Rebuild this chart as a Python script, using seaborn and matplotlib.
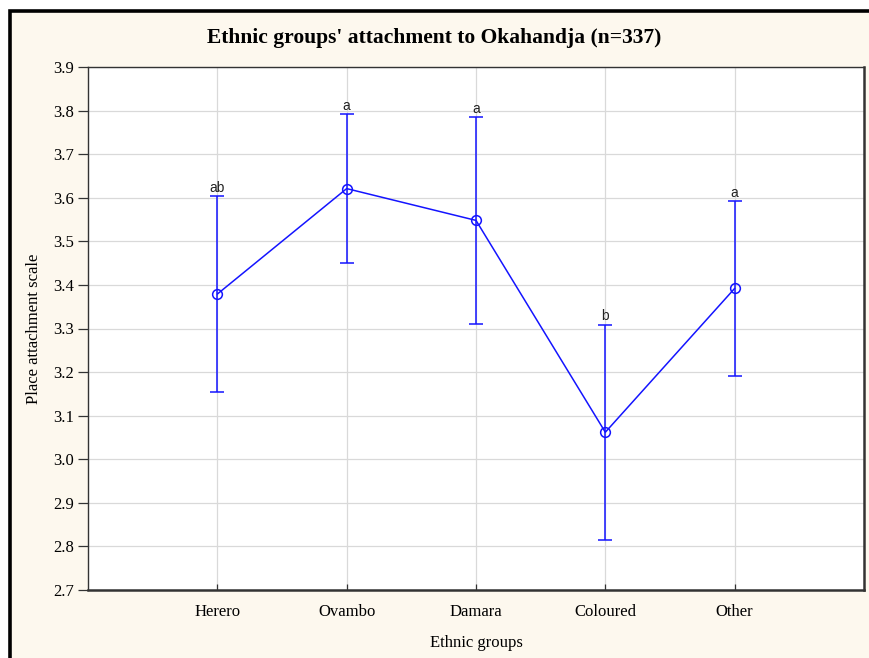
import matplotlib
matplotlib.use("Agg")
import matplotlib.pyplot as plt
from matplotlib.patches import Rectangle
import seaborn as sns
import pandas as pd

# Group means and half-widths of the error bars
groups = ["Herero", "Ovambo", "Damara", "Coloured", "Other"]
means = [3.379, 3.621, 3.548, 3.062, 3.392]
errors = [0.225, 0.171, 0.237, 0.247, 0.200]
letters = ["ab", "a", "a", "b", "a"]
y_ticks = [2.7, 2.8, 2.9, 3.0, 3.1, 3.2, 3.3, 3.4, 3.5, 3.6, 3.7, 3.8, 3.9]

df = pd.DataFrame({"pos": range(len(groups)), "group": groups,
                   "mean": means, "err": errors})

sns.set_style("white")
plt.rcParams["font.family"] = ["Liberation Serif", "DejaVu Serif"]
plt.rcParams["text.color"] = "black"
plt.rcParams["axes.labelcolor"] = "black"

fig = plt.figure(figsize=(8.69, 6.58), dpi=100)
fig.patch.set_facecolor("white")
cream = "#fdf8ee"
frame = Rectangle((10 / 869, -0.05), 1.05, 1 - 11 / 658 + 0.05,
                  transform=fig.transFigure, facecolor=cream,
                  edgecolor="black", linewidth=2.6, zorder=-10)
fig.patches.append(frame)

ax = fig.add_axes([88 / 869, 68 / 658, 776 / 869, 523 / 658])
ax.set_facecolor("white")

blue = "#1414ff"
sns.lineplot(data=df, x="pos", y="mean", ax=ax, color=blue, linewidth=1.1,
             marker="o", markersize=7, markerfacecolor="none",
             markeredgecolor=blue, markeredgewidth=1.1, sort=False, zorder=3)
ax.errorbar(df["pos"], df["mean"], yerr=df["err"], fmt="none", ecolor=blue,
            elinewidth=1.1, capsize=5, capthick=1.1, zorder=3)

for x, m, e, t in zip(df["pos"], df["mean"], df["err"], letters):
    ax.text(x, m + e + 0.003, t, ha="center", va="bottom", fontsize=10,
            family=["Liberation Sans", "DejaVu Sans"], color="#222222")

ax.set_xlim(-1, 5)
ax.set_ylim(2.7, 3.9)
ax.set_xticks(df["pos"])
ax.set_xticklabels(groups)
ax.set_yticks(y_ticks)
ax.set_yticklabels([f"{v:.1f}" for v in y_ticks])

ax.grid(True, color="#d9d9d9", linewidth=0.9, zorder=0)
ax.set_axisbelow(True)

ax.tick_params(axis="y", direction="out", length=7, width=0.9, pad=3,
               labelsize=12, color="#333333", labelcolor="black", left=True)
ax.tick_params(axis="x", direction="in", length=4, width=0.9, pad=10,
               labelsize=12, color="#333333", labelcolor="black", bottom=True)

for side, sp in ax.spines.items():
    sp.set_visible(True)
    sp.set_color("#333333")
    sp.set_linewidth(1.0)
ax.spines["right"].set_linewidth(1.8)
ax.spines["bottom"].set_linewidth(1.8)

ax.set_xlabel("Ethnic groups", fontsize=12, labelpad=11)
ax.set_ylabel("Place attachment scale", fontsize=12, labelpad=8)
fig.text(0.5, 1 - 38 / 658, "Ethnic groups' attachment to Okahandja (n=337)",
         ha="center", va="center", fontsize=15.5, fontweight="bold")

fig.savefig("out.png", dpi=100, facecolor=fig.get_facecolor())
